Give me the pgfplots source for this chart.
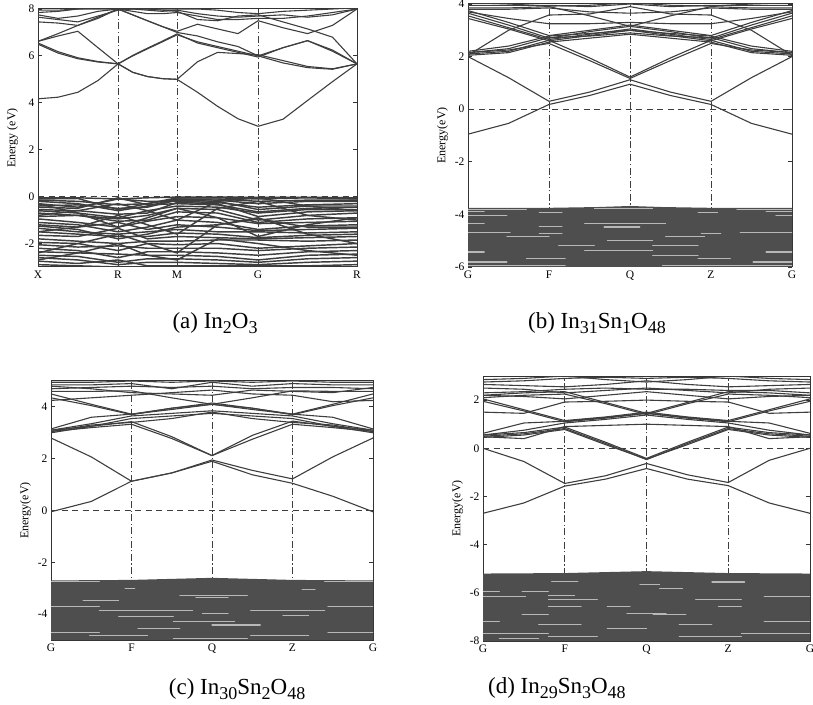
\documentclass[border=0pt]{standalone}
\usepackage{pgfplots}
\usepackage{pgfplotstable}
\pgfplotsset{compat=1.18}
\usepackage{fontspec}
\setmainfont{Liberation Serif}
\definecolor{bandgray}{RGB}{62,62,62}
\definecolor{blockgray}{RGB}{78,78,78}
\newcommand\sub[1]{\raisebox{-0.22em}{\fontsize{18}{18}\selectfont #1}}

% bands written one per row, transposed below so that each band is a column
\pgfplotstableread{
name c0 c1 c2 c3 c4 c5 c6 c7 c8 c9 c10 c11 c12 c13 c14 c15 c16
k 0 0.063 0.125 0.188 0.251 0.297 0.343 0.390 0.436 0.500 0.563 0.627 0.690 0.768 0.845 0.923 1
a1 4.17 4.24 4.45 4.95 5.66 6.00 6.30 6.60 6.90 6.60 6.40 6.20 6.00 5.70 5.50 5.43 5.66
a2 6.55 6.18 5.92 5.76 5.66 5.30 5.12 5.03 5.00 4.45 3.85 3.32 3.00 3.30 4.10 4.90 5.66
a3 6.50 6.12 5.88 5.74 5.66 6.02 6.33 6.63 6.94 6.55 6.35 6.15 5.95 6.35 6.65 6.20 5.66
a4 6.62 6.85 7.05 6.35 5.66 5.30 5.12 5.03 5.00 5.75 6.15 6.10 6.05 5.80 5.55 5.45 5.66
a5 6.62 6.95 7.30 7.65 8.00 7.75 7.50 7.25 7.05 7.35 7.15 6.95 7.50 7.20 6.95 7.30 8.00
a6 7.45 7.40 7.30 7.60 8.00 7.75 7.50 7.25 7.00 6.85 6.60 6.40 6.00 6.35 6.65 6.25 5.66
a7 7.85 7.90 8.00 8.00 8.00 7.90 7.80 7.80 7.85 7.70 7.55 7.55 7.60 7.60 7.70 7.85 8.00
a8 7.75 7.60 7.70 7.90 8.00 8.00 7.95 7.90 7.95 7.80 7.70 7.65 7.70 7.75 7.65 7.75 8.00
a9 7.65 7.55 7.45 7.70 7.95 8.00 8.00 7.95 7.90 7.55 7.50 7.70 7.75 7.45 7.15 6.80 5.66
a10 7.95 7.95 8.00 8.05 8.10 8.05 8.00 8.00 8.00 8.00 7.95 7.85 7.80 7.90 7.95 8.00 8.05
}\rawAc
\pgfplotstabletranspose[colnames from=name]{\tabAc}{\rawAc}

\pgfplotstableread{
name c0 c1 c2 c3 c4 c5 c6 c7 c8
k 0 0.125 0.251 0.343 0.436 0.563 0.690 0.845 1
v1 -0.05 -0.05 -0.10 -0.05 -0.02 -0.02 -0.03 -0.03 -0.05
v2 -0.10 -0.08 -0.55 -0.30 -0.05 -0.05 -0.10 -0.05 -0.10
v3 -0.20 -0.30 -0.60 -0.40 -0.10 -0.15 -0.30 -0.20 -0.20
v4 -0.30 -0.45 -0.10 -0.20 -0.20 -0.25 -0.45 -0.35 -0.30
v5 -0.45 -0.50 -0.05 -0.35 -0.30 -0.35 -0.65 -0.50 -0.45
v6 -0.60 -0.70 -0.90 -0.60 -0.40 -0.45 -0.70 -0.55 -0.55
v7 -0.70 -0.80 -0.95 -0.80 -0.50 -0.55 -1.00 -0.80 -0.70
v8 -0.85 -0.80 -1.05 -1.00 -0.65 -0.70 -1.10 -0.95 -0.90
v9 -0.95 -1.10 -1.30 -1.05 -0.85 -0.90 -1.15 -1.10 -1.05
v10 -1.10 -1.20 -1.50 -1.30 -1.00 -1.10 -1.40 -1.25 -1.20
v11 -1.20 -1.30 -1.10 -1.40 -1.20 -1.30 -1.45 -1.40 -1.35
v12 -1.35 -1.50 -1.60 -1.50 -1.40 -1.50 -1.50 -1.55 -1.50
v13 -1.50 -1.60 -1.70 -1.70 -1.55 -1.60 -1.75 -1.65 -1.60
v14 -1.65 -1.70 -1.35 -1.80 -1.70 -1.75 -1.80 -1.75 -1.70
v15 -1.80 -1.90 -2.00 -1.90 -1.90 -1.85 -1.85 -1.90 -1.85
v16 -1.95 -2.00 -2.30 -2.00 -2.05 -2.00 -2.20 -2.10 -2.00
v17 -2.05 -2.15 -2.10 -2.20 -2.20 -2.20 -2.30 -2.20 -2.15
v18 -2.20 -2.30 -2.60 -2.35 -2.35 -2.40 -2.50 -2.35 -2.30
v19 -2.35 -2.40 -2.45 -2.50 -2.50 -2.55 -2.70 -2.50 -2.45
v20 -2.50 -2.55 -2.80 -2.65 -2.65 -2.70 -2.80 -2.65 -2.60
v21 -2.60 -2.70 -2.90 -2.80 -2.80 -2.85 -2.90 -2.80 -2.75
v22 -2.75 -2.85 -2.70 -2.95 -2.95 -2.95 -2.95 -2.95 -2.90
v23 -2.90 -2.95 -3.00 -3.00 -3.00 -3.00 -3.00 -3.05 -3.00
v24 -0.80 -0.60 -0.30 -0.60 -1.00 -0.20 -0.05 -0.40 -0.60
v25 -1.50 -1.30 -0.80 -1.20 -1.60 -0.50 -0.20 -0.80 -1.00
v26 -2.40 -2.00 -1.60 -2.00 -2.40 -1.20 -0.90 -1.60 -2.00
v27 -2.70 -2.40 -2.00 -2.50 -2.70 -1.80 -2.00 -2.30 -2.50
v28 -0.30 -0.70 -1.30 -0.90 -0.50 -0.90 -1.70 -1.20 -0.90
v29 -0.15 -0.20 -0.35 -0.30 -0.10 -0.10 -0.20 -0.15 -0.15
v30 -0.40 -0.35 -0.50 -0.45 -0.15 -0.20 -0.55 -0.40 -0.40
v31 -0.55 -0.60 -0.75 -0.70 -0.25 -0.30 -0.85 -0.65 -0.60
v32 -1.25 -1.40 -1.80 -1.60 -1.30 -1.20 -0.95 -1.30 -1.30
}\rawAv
\pgfplotstabletranspose[colnames from=name]{\tabAv}{\rawAv}

\pgfplotstableread{
name c0 c1 c2 c3 c4 c5 c6 c7 c8
k 0 0.125 0.25 0.375 0.5 0.625 0.75 0.875 1
b1 -0.95 -0.54 0.18 0.52 0.95 0.52 0.18 -0.54 -0.95
b2 2.00 1.20 0.30 0.65 1.12 0.65 0.30 1.20 2.00
b3 2.15 2.25 2.50 1.85 1.17 1.85 2.50 2.25 2.15
b4 2.10 2.20 2.62 1.95 1.22 1.95 2.62 2.20 2.10
b5 2.15 2.30 2.72 2.78 2.90 2.78 2.72 2.30 2.15
b6 2.20 2.40 2.78 2.88 3.00 2.88 2.78 2.40 2.20
b7 3.65 3.20 2.70 2.95 3.15 2.95 2.70 3.20 3.65
b8 3.75 3.30 2.80 3.00 3.20 3.00 2.80 3.30 3.75
b9 3.55 3.10 2.65 2.85 3.05 2.85 2.65 3.10 3.55
b10 3.85 3.85 3.90 3.55 3.15 3.55 3.90 3.85 3.85
b11 2.05 3.00 3.58 3.62 3.90 3.62 3.58 3.00 2.05
b12 3.80 3.80 3.85 3.70 3.65 3.70 3.85 3.80 3.80
b13 3.95 3.95 3.95 3.90 4.00 3.90 3.95 3.95 3.95
b14 3.70 3.45 3.25 3.25 3.30 3.25 3.25 3.45 3.70
b15 3.45 3.05 2.60 2.80 3.00 2.80 2.60 3.05 3.45
b16 2.05 2.15 2.55 2.70 2.85 2.70 2.55 2.15 2.05
b17 4.05 4.00 3.92 3.95 4.05 3.95 3.92 4.00 4.05
}\rawB
\pgfplotstabletranspose[colnames from=name]{\tabB}{\rawB}

\pgfplotstableread{
name c0 c1 c2 c3 c4 c5 c6 c7 c8
k 0 0.125 0.25 0.375 0.5 0.625 0.75 0.875 1
c1 -0.05 0.35 1.13 1.45 1.90 1.38 1.05 0.55 -0.05
c2 2.80 2.07 1.13 1.45 1.95 1.55 1.22 2.07 2.80
c3 3.05 3.20 3.33 2.78 2.12 2.75 3.33 3.20 3.05
c4 3.10 3.25 3.43 2.85 2.12 2.90 3.45 3.25 3.10
c5 3.00 3.25 3.55 3.65 3.75 3.65 3.55 3.25 3.00
c6 3.10 3.35 3.65 3.75 3.85 3.75 3.65 3.35 3.10
c7 3.15 3.60 3.72 3.95 4.10 3.95 3.72 3.60 3.15
c8 4.35 4.05 3.70 3.95 4.15 3.95 3.70 4.05 4.35
c9 4.50 4.10 3.72 3.90 4.10 3.90 3.72 4.10 4.50
c10 4.25 4.35 4.45 4.55 4.65 4.50 4.45 4.20 4.25
c11 4.60 4.60 4.62 4.35 4.10 4.35 4.62 4.60 4.60
c12 4.70 4.75 4.80 4.75 4.80 4.70 4.75 4.75 4.70
c13 4.85 4.85 4.90 4.70 4.95 4.80 4.90 4.85 4.85
c14 4.95 4.95 5.00 4.95 5.00 4.95 5.00 4.95 4.95
c15 4.80 4.70 4.55 4.50 4.45 4.65 4.60 4.55 4.75
c16 3.05 3.30 3.40 3.55 3.80 3.55 3.40 3.30 3.05
}\rawC
\pgfplotstabletranspose[colnames from=name]{\tabC}{\rawC}

\pgfplotstableread{
name c0 c1 c2 c3 c4 c5 c6 c7 c8
k 0 0.125 0.25 0.375 0.5 0.625 0.75 0.875 1
d1 0.00 -0.55 -1.46 -1.14 -0.63 -1.10 -1.42 -0.50 0.00
d2 -2.70 -2.27 -1.57 -1.28 -0.84 -1.28 -1.55 -2.27 -2.70
d3 0.50 0.60 0.82 0.20 -0.47 0.20 0.82 0.60 0.50
d4 0.45 0.55 0.78 0.15 -0.45 0.15 0.78 0.55 0.45
d5 0.55 0.65 0.88 0.25 -0.42 0.25 0.88 0.65 0.55
d6 0.48 0.40 0.90 0.95 1.00 0.95 0.90 0.40 0.48
d7 0.62 1.05 1.12 1.28 1.45 1.28 1.12 1.05 0.62
d8 0.55 0.75 1.05 1.20 1.38 1.20 1.05 0.75 0.55
d9 2.05 1.60 1.15 1.30 1.50 1.30 1.15 1.60 2.05
d10 1.95 1.55 1.10 1.25 1.45 1.25 1.10 1.55 1.95
d11 1.50 1.45 1.92 1.95 2.00 1.95 1.92 1.45 1.50
d12 2.20 2.30 2.35 1.90 1.45 1.90 2.35 2.30 2.20
d13 2.10 2.20 2.25 1.85 1.40 1.85 2.25 2.20 2.10
d14 2.30 2.35 2.45 2.50 2.45 2.45 2.40 2.40 2.30
d15 2.50 2.45 2.30 2.40 2.50 2.40 2.30 2.45 2.50
d16 2.65 2.60 2.55 2.65 2.80 2.65 2.55 2.60 2.65
d17 2.20 2.15 2.05 2.20 2.35 2.20 2.05 2.15 2.20
d18 2.85 2.90 3.00 2.85 2.75 2.85 3.00 2.90 2.85
d19 2.75 2.80 2.90 2.95 2.90 2.95 2.90 2.80 2.75
}\rawD
\pgfplotstabletranspose[colnames from=name]{\tabD}{\rawD}

\pgfplotsset{
  bandaxis/.style={scale only axis, anchor=south west, xmin=0, xmax=1,
    axis line style={line width=1pt, black!80}, tick align=inside,
    major tick length=4pt, ytick style={line width=0.9pt, black!80}, xtick style={draw=none},
    tick label style={font=\fontsize{11.5}{12}\selectfont},
    /pgf/number format/assume math mode=true,
    ylabel style={font=\fontsize{12}{13}\selectfont},
    xlabel style={font=\fontsize{23}{25}\selectfont, anchor=center},
    unbounded coords=jump},
  band/.style={bandgray, line width=1.1pt, line join=round},
  vband/.style={bandgray, line width=1.45pt, line join=round},
  symline/.style={bandgray, line width=0.9pt, dash pattern=on 7pt off 2.5pt on 1.2pt off 2.5pt},
  fermi/.style={bandgray, line width=0.9pt, dash pattern=on 6pt off 4.5pt},
  block/.style={draw=none, fill=blockgray},
  streak/.style={white, line width=1.1pt, opacity=0.6, line cap=round},
}

\begin{document}
\begin{tikzpicture}
\useasboundingbox (0pt,0pt) rectangle (813pt,704pt);

% (a) In2O3
\begin{axis}[bandaxis, at={(38pt,437pt)}, width=319pt, height=258pt,
  ymin=-3, ymax=8, ytick={-2,0,...,8},
  xtick={0,0.251,0.436,0.69,1}, xticklabels={X,R,M,G,R},
  ylabel={Energy (eV)}, xlabel={(a) In\sub{2}O\sub{3}},
  xlabel style={at={(axis description cs:0.555,-0.217)}}]
\addplot[symline] coordinates {(0.251,-3)(0.251,8)(0.251,nan)(0.436,-3)(0.436,8)(0.436,nan)(0.69,-3)(0.69,8)};
\pgfplotsinvokeforeach{1,...,32}{\addplot[vband] table[x=k,y=v#1]{\tabAv};}
\pgfplotsinvokeforeach{1,...,10}{\addplot[band] table[x=k,y=a#1]{\tabAc};}
\addplot[fermi] coordinates {(0,0)(1,0)};
\end{axis}

% (b) In31Sn1O48
\begin{axis}[bandaxis, at={(468pt,437pt)}, width=324pt, height=263pt,
  ymin=-6, ymax=4, ytick={-6,-4,...,4},
  xtick={0,0.25,0.5,0.75,1}, xticklabels={G,F,Q,Z,G},
  ylabel={Energy(eV)}, xlabel={(b) In\sub{31}Sn\sub{1}O\sub{48}},
  xlabel style={at={(axis description cs:0.398,-0.213)}}]
\addplot[symline] coordinates {(0.25,-6)(0.25,4)(0.25,nan)(0.5,-6)(0.5,4)(0.5,nan)(0.75,-6)(0.75,4)};
\pgfplotsinvokeforeach{1,...,17}{\addplot[band] table[x=k,y=b#1]{\tabB};}
\addplot[block] coordinates {(0,-3.75)(0.25,-3.75)(0.4,-3.72)(0.5,-3.68)(0.6,-3.72)(0.75,-3.75)(1,-3.75)(1,-6)(0,-6)} -- cycle;
\addplot[streak] coordinates {
(0,-3.80)(0.18,-3.80)(0.18,nan)(0.39,-3.79)(0.57,-3.79)(0.57,nan)(0.83,-3.80)(1,-3.80)(1,nan)
(0,-3.90)(0.05,-3.90)(0.05,nan)(0.22,-3.92)(0.29,-3.92)(0.29,nan)(0.71,-3.92)(0.77,-3.92)(0.77,nan)(0.92,-3.90)(1,-3.90)(1,nan)
(0,-4.05)(0.12,-4.05)(0.12,nan)(0.95,-4.05)(1,-4.05)(1,nan)
(0,-4.35)(0.05,-4.35)(0.05,nan)(0.36,-4.35)(0.61,-4.35)(0.61,nan)
(0.22,-4.47)(0.29,-4.47)(0.29,nan)(0.42,-4.48)(0.53,-4.48)(0.53,nan)
(0,-4.69)(0.13,-4.69)(0.13,nan)(0.84,-4.69)(1,-4.69)(1,nan)(0.22,-4.72)(0.29,-4.72)(0.29,nan)(0.72,-4.72)(0.78,-4.72)(0.78,nan)
(0.12,-4.85)(0.25,-4.85)(0.25,nan)(0.61,-4.85)(0.73,-4.85)(0.73,nan)
(0.43,-4.98)(0.57,-4.98)(0.57,nan)
(0.28,-5.17)(0.39,-5.17)(0.39,nan)(0.57,-5.17)(0.71,-5.17)(0.71,nan)
(0.36,-5.36)(0.57,-5.36)(0.57,nan)
(0,-5.43)(0.05,-5.43)(0.05,nan)(0.92,-5.43)(1,-5.43)(1,nan)
(0.57,-5.55)(0.71,-5.55)(0.71,nan)
(0.18,-5.68)(0.30,-5.68)(0.30,nan)(0.71,-5.68)(0.81,-5.68)(0.81,nan)
(0,-5.81)(0.12,-5.81)(0.12,nan)(0.88,-5.81)(1,-5.81)(1,nan)
(0,-5.93)(0.30,-5.93)(0.30,nan)(0.60,-5.93)(1,-5.93)};
\addplot[fermi] coordinates {(0,0)(1,0)};
\end{axis}

% (c) In30Sn2O48
\begin{axis}[bandaxis, at={(51pt,64pt)}, width=322pt, height=259pt,
  ymin=-5, ymax=5, ytick={-4,-2,...,4},
  xtick={0,0.25,0.5,0.75,1}, xticklabels={G,F,Q,Z,G},
  ylabel={Energy(eV)}, xlabel={(c) In\sub{30}Sn\sub{2}O\sub{48}},
  xlabel style={at={(axis description cs:0.578,-0.19)}}]
\addplot[symline] coordinates {(0.25,-5)(0.25,5)(0.25,nan)(0.5,-5)(0.5,5)(0.5,nan)(0.75,-5)(0.75,5)};
\pgfplotsinvokeforeach{1,...,16}{\addplot[band] table[x=k,y=c#1]{\tabC};}
\addplot[block] coordinates {(0,-2.70)(0.25,-2.68)(0.5,-2.60)(0.75,-2.68)(1,-2.70)(1,-5)(0,-5)} -- cycle;
\addplot[streak] coordinates {
(0,-2.73)(0.15,-2.73)(0.15,nan)(0.85,-2.73)(1,-2.73)(1,nan)
(0.23,-3.01)(0.26,-3.01)(0.26,nan)(0.78,-3.05)(0.82,-3.05)(0.82,nan)
(0.40,-3.27)(0.61,-3.27)(0.61,nan)(0.45,-3.35)(0.55,-3.35)(0.55,nan)
(0.10,-3.46)(0.21,-3.46)(0.21,nan)
(0,-3.72)(0.15,-3.72)(0.15,nan)(0.86,-3.72)(1,-3.72)(1,nan)
(0.15,-3.85)(0.44,-3.85)(0.44,nan)(0.62,-3.85)(0.85,-3.85)(0.85,nan)
(0.47,-3.97)(0.55,-3.97)(0.55,nan)
(0.21,-4.10)(0.38,-4.10)(0.38,nan)(0.72,-4.05)(0.80,-4.05)(0.80,nan)
(0.38,-4.29)(0.57,-4.29)(0.57,nan)
(0.50,-4.42)(0.65,-4.42)(0.65,nan)
(0.27,-4.55)(0.40,-4.55)(0.40,nan)
(0,-4.71)(0.15,-4.71)(0.15,nan)(0.86,-4.71)(1,-4.71)(1,nan)
(0.12,-4.83)(0.30,-4.83)(0.30,nan)(0.62,-4.83)(0.80,-4.83)(0.80,nan)
(0.38,-4.94)(0.61,-4.94)};
\addplot[fermi] coordinates {(0,0)(1,0)};
\end{axis}

% (d) In29Sn3O48
\begin{axis}[bandaxis, at={(483pt,63pt)}, width=327pt, height=265pt,
  ymin=-8, ymax=3, ytick={-8,-6,...,2},
  xtick={0,0.25,0.5,0.75,1}, xticklabels={G,F,Q,Z,G},
  ylabel={Energy(eV)}, xlabel={(d) In\sub{29}Sn\sub{3}O\sub{48}},
  xlabel style={at={(axis description cs:0.226,-0.178)}}]
\addplot[symline] coordinates {(0.25,-8)(0.25,3)(0.25,nan)(0.5,-8)(0.5,3)(0.5,nan)(0.75,-8)(0.75,3)};
\pgfplotsinvokeforeach{1,...,19}{\addplot[band] table[x=k,y=d#1]{\tabD};}
\addplot[block] coordinates {(0,-5.20)(0.25,-5.18)(0.5,-5.10)(0.75,-5.18)(1,-5.20)(1,-8)(0,-8)} -- cycle;
\addplot[streak] coordinates {
(0.21,-5.53)(0.29,-5.53)(0.29,nan)
(0.48,-5.67)(0.54,-5.67)(0.54,nan)(0.70,-5.55)(0.80,-5.55)(0.80,nan)
(0.54,-5.81)(0.61,-5.81)(0.61,nan)
(0,-5.95)(0.05,-5.95)(0.05,nan)(0.12,-5.95)(0.20,-5.95)(0.20,nan)
(0,-6.16)(0.13,-6.16)(0.13,nan)(0.86,-6.16)(1,-6.16)(1,nan)(0.20,-6.10)(0.28,-6.10)(0.28,nan)
(0.20,-6.29)(0.35,-6.29)(0.35,nan)(0.65,-6.29)(0.79,-6.29)(0.79,nan)
(0.20,-6.57)(0.30,-6.57)(0.30,nan)(0.38,-6.57)(0.45,-6.57)(0.45,nan)(0.72,-6.57)(0.79,-6.57)(0.79,nan)
(0.44,-6.85)(0.56,-6.85)(0.56,nan)
(0.12,-6.91)(0.20,-6.91)(0.20,nan)(0.52,-6.91)(0.62,-6.91)(0.62,nan)
(0,-7.19)(0.05,-7.19)(0.05,nan)(0.86,-7.19)(1,-7.19)(1,nan)
(0.17,-7.33)(0.30,-7.33)(0.30,nan)(0.60,-7.33)(0.70,-7.33)(0.70,nan)
(0.38,-7.47)(0.50,-7.47)(0.50,nan)
(0,-7.67)(0.20,-7.67)(0.20,nan)(0.79,-7.67)(1,-7.67)(1,nan)
(0.20,-7.81)(0.35,-7.81)(0.35,nan)(0.60,-7.81)(0.79,-7.81)(0.79,nan)
(0.05,-7.91)(0.17,-7.91)};
\addplot[fermi] coordinates {(0,0)(1,0)};
\end{axis}
\end{tikzpicture}
\end{document}
